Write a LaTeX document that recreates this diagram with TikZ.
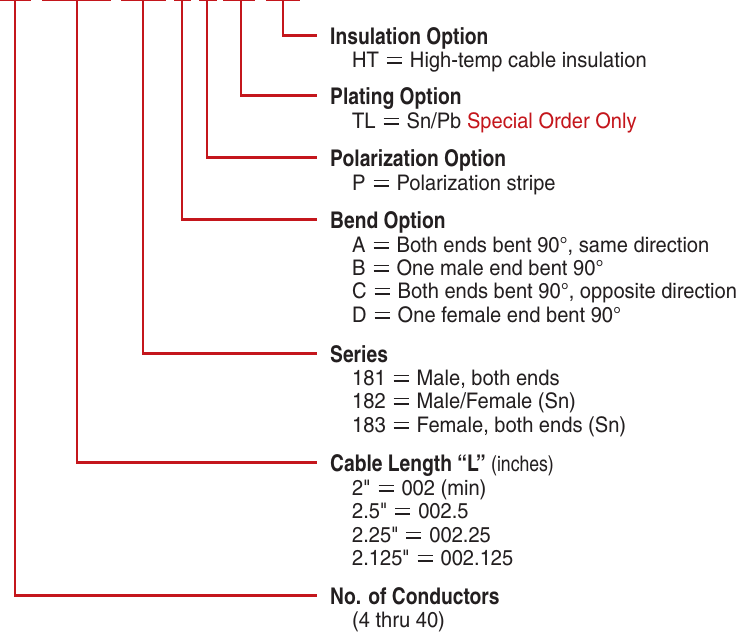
\documentclass[tikz,border=0pt]{standalone}
\usepackage{fontspec}
\setmainfont{texgyreheroscn}[Extension=.otf,UprightFont=*-regular,BoldFont=*-bold,
  UprightFeatures={FakeStretch=1.14},BoldFeatures={FakeStretch=1.02}]
\newfontfamily\nomapfont{texgyreheroscn}[Extension=.otf,UprightFont=*-regular,FakeStretch=1.14]
\newfontfamily\narrowreg{texgyreheroscn}[Extension=.otf,UprightFont=*-regular]
\definecolor{legred}{RGB}{196,22,28}
\definecolor{legtext}{RGB}{35,31,32}
\newcommand\eqsign{\hspace{8pt}\rlap{\rule[3.3pt]{15pt}{1.35pt}}\rule[8.7pt]{15pt}{1.35pt}\hspace{8pt}}
\newcommand\inch{{\nomapfont\symbol{34}}}
\begin{document}
\begin{tikzpicture}[x=1pt,y=-1pt,
  conn/.style={draw=legred,line width=2.5pt},
  head/.style={anchor=base west,inner sep=0pt,text height=17pt,text depth=0pt,
    font=\fontsize{23}{26}\selectfont\bfseries,text=legtext},
  sub/.style={anchor=base west,inner sep=0pt,font=\fontsize{21.5}{24}\selectfont,text=legtext}]
\useasboundingbox (0,0) rectangle (752,633);
% top bars
\foreach \a/\b in {0/31,42/111,121/166,174/191,199/217,223/255,266/300}
  \draw[conn] (\a,0) -- (\b,0);
% top anchor coordinates
\coordinate (t1) at (283,0);
\coordinate (t2) at (241,0);
\coordinate (t3) at (207,0);
\coordinate (t4) at (182,0);
\coordinate (t5) at (143,0);
\coordinate (t6) at (77,0);
\coordinate (t7) at (15,0);
% headings
\node[head] (h1) at (330,44) {Insulation Option};
\node[sub] (s11) at (352,67) {HT\eqsign High-temp cable insulation};
\node[head] (h2) at (330,104) {Plating Option};
\node[sub] (s21) at (352,128) {TL\eqsign Sn/Pb \textcolor{legred}{Special Order Only}};
\node[head] (h3) at (330,166) {Polarization Option};
\node[sub] (s31) at (352,190) {P\eqsign Polarization stripe};
\node[head] (h4) at (330,228) {Bend Option};
\node[sub] (s41) at (352,252) {A\eqsign Both ends bent 90°, same direction};
\node[sub] (s42) at (352,275) {B\eqsign One male end bent 90°};
\node[sub] (s43) at (352,298) {C\eqsign Both ends bent 90°, opposite direction};
\node[sub] (s44) at (352,322) {D\eqsign One female end bent 90°};
\node[head] (h5) at (330,362) {Series};
\node[sub] (s51) at (352,385) {181\eqsign Male, both ends};
\node[sub] (s52) at (352,408) {182\eqsign Male/Female (Sn)};
\node[sub] (s53) at (352,432) {183\eqsign Female, both ends (Sn)};
\node[head] (h6) at (330,471) {Cable Length “L”\ {\narrowreg\mdseries\fontsize{21.5}{24}\selectfont(inches)}};
\node[sub] (s61) at (352,495) {2\inch\eqsign 002 (min)};
\node[sub] (s62) at (352,518) {2.5\inch\eqsign 002.5};
\node[sub] (s63) at (352,542) {2.25\inch\eqsign 002.25};
\node[sub] (s64) at (352,565) {2.125\inch\eqsign 002.125};
\node[head] (h7) at (330,604) {No. of Conductors};
\node[sub] (s71) at (352,627) {(4 thru 40)};
% connectors
\foreach \i in {1,...,7}
  \draw[conn] (t\i) |- ([xshift=-13pt]h\i.west);
\end{tikzpicture}
\end{document}
